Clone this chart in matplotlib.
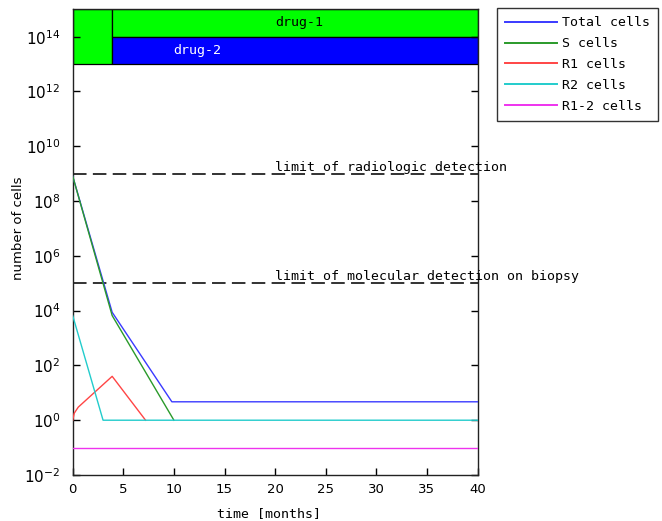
import matplotlib
matplotlib.use("Agg")
import matplotlib.pyplot as plt
import numpy as np
from matplotlib.ticker import FixedLocator, LogFormatterMathtext, NullLocator

# ---------------- data ----------------
t_total = [0, 3.9, 9.8, 40]
v_total = [8.1e8, 8.7e3, 4.7, 4.7]

t_s = [0, 3.9, 10]
v_s = [8.1e8, 6.6e3, 1.0]

t_r1 = [0, 0.15, 0.55, 3.9, 7.2]
v_r1 = [1.0, 1.8, 3.0, 40, 1.0]

t_r2 = [0, 3.0, 40]
v_r2 = [6.6e3, 1.0, 1.0]

t_r12 = [0, 40]
v_r12 = [0.1, 0.1]

series_labels = ["Total cells", "S cells", "R1 cells", "R2 cells", "R1-2 cells"]
series_colors = ["#3a3aff", "#2a9a2a", "#ff4545", "#22cccc", "#ee33ee"]

limit_values = [1e9, 1e5]
limit_labels = ["limit of radiologic detection",
                "limit of molecular detection on biopsy"]

# drug schedule bands
band_start = [0, 3.9, 3.9]
band_end = [3.9, 40, 40]
band_low = [1e13, 1e14, 1e13]
band_high = [1e15, 1e15, 1e14]
band_colors = ["#00ff00", "#00ff00", "#0000ff"]
band_text = ["", "drug-1", "drug-2"]
band_text_x = [None, 22.4, 12.3]
band_text_color = ["black", "black", "white"]

x_ticks = [0, 5, 10, 15, 20, 25, 30, 35, 40]
y_ticks = [1e-2, 1e0, 1e2, 1e4, 1e6, 1e8, 1e10, 1e12, 1e14]

# ---------------- figure ----------------
mono = "DejaVu Sans Mono"
fig = plt.figure(figsize=(6.62, 5.21), dpi=100)
ax = fig.add_axes([72.7 / 662, 1 - 475 / 521, (477.5 - 72.7) / 662, (475 - 9.3) / 521])
ax.set_yscale("log")
ax.set_xlim(0, 40)
ax.set_ylim(1e-2, 1e15)

# bands
for s, e, lo, hi, c, txt, tx, tc in zip(band_start, band_end, band_low, band_high,
                                        band_colors, band_text, band_text_x, band_text_color):
    ax.bar(s, hi - lo, width=e - s, bottom=lo, align="edge", color=c,
           edgecolor="black", linewidth=0.9, zorder=1)
    if txt:
        ax.text(tx, np.sqrt(lo * hi), txt, ha="center", va="center",
                color=tc, fontsize=9.5, family=mono, zorder=3)

# curves
lw = 1.0
ax.plot(t_total, v_total, color=series_colors[0], lw=lw, label=series_labels[0], zorder=4)
ax.plot(t_s, v_s, color=series_colors[1], lw=lw, label=series_labels[1], zorder=4)
ax.plot(t_r1, v_r1, color=series_colors[2], lw=lw, label=series_labels[2], zorder=4)
ax.plot(t_r2, v_r2, color=series_colors[3], lw=lw, label=series_labels[3], zorder=4)
ax.plot(t_r12, v_r12, color=series_colors[4], lw=lw, label=series_labels[4], zorder=4)

# detection limits
for val, lab in zip(limit_values, limit_labels):
    ax.hlines(val, 0, 40, colors="#222222", linewidth=1.3,
              linestyles=(0, (7.5, 3.5)), zorder=2)
    ax.text(20, val * 1.3, lab, ha="left", va="baseline", fontsize=9.5,
            family=mono, color="black", clip_on=False, zorder=5)

# axes styling
ax.xaxis.set_major_locator(FixedLocator(x_ticks))
ax.yaxis.set_major_locator(FixedLocator(y_ticks))
ax.yaxis.set_major_formatter(LogFormatterMathtext())
ax.yaxis.set_minor_locator(NullLocator())
ax.tick_params(axis="both", which="major", direction="in", length=5, width=1,
               colors="black")
ax.tick_params(axis="x", top=False, pad=6, labelsize=9.5)
ax.tick_params(axis="y", right=True, pad=9, labelsize=11)
for sp in ax.spines.values():
    sp.set_linewidth(1.0)
    sp.set_color("#222222")

ax.set_xlabel("time [months]", fontsize=9.5, family=mono)
ax.xaxis.set_label_coords(0.485, -0.068)
ax.set_ylabel("number of cells", fontsize=9.5)
ax.yaxis.set_label_coords(-0.118, 0.53)

leg = ax.legend(loc="upper left", bbox_to_anchor=(496.7 / 662, 1 - 8.3 / 521),
                bbox_transform=fig.transFigure, borderaxespad=0,
                prop={"family": mono, "size": 9.5}, frameon=True, fancybox=False,
                handlelength=4.0, handletextpad=0.35, labelspacing=0.6,
                borderpad=0.6)
leg.get_frame().set_edgecolor("black")
leg.get_frame().set_linewidth(1.0)
for h in leg.get_lines():
    h.set_linewidth(1.4)

fig.savefig("out.png", dpi=100)
